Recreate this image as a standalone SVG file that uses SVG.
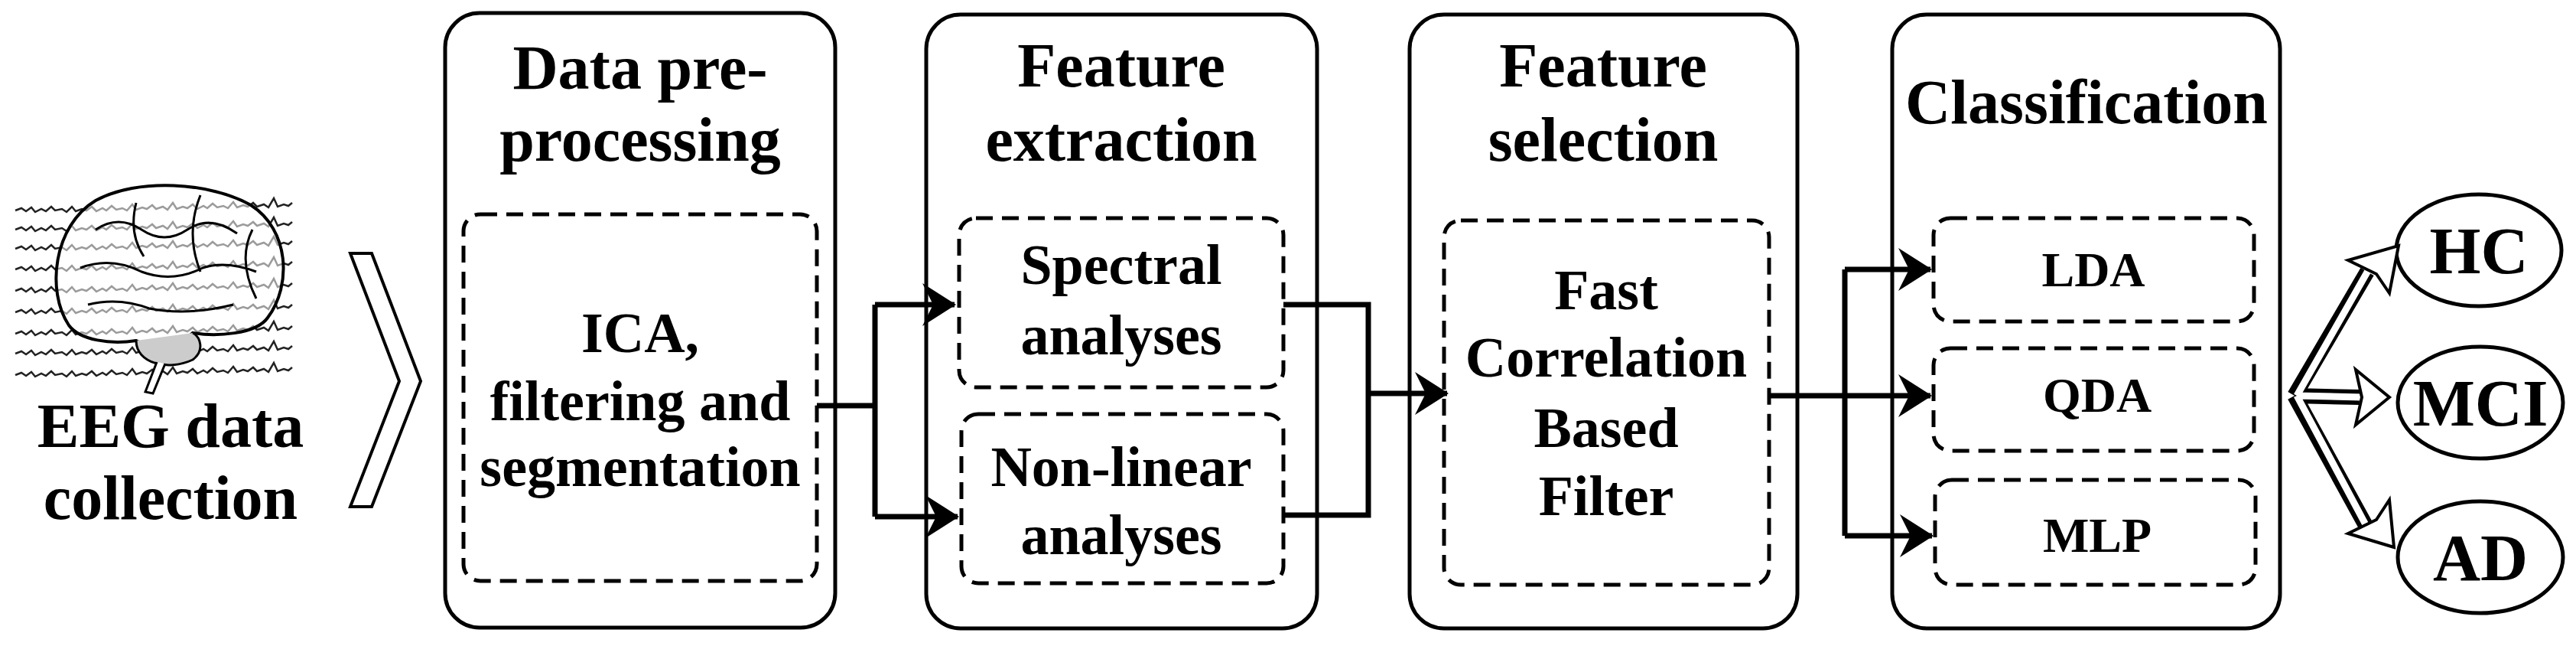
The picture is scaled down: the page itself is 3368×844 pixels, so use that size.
<svg xmlns="http://www.w3.org/2000/svg" width="3368" height="844" viewBox="0 0 3368 844" font-family="Liberation Serif, Times New Roman, DejaVu Serif, serif">
<style>
text{font-family:'Liberation Serif','Times New Roman','DejaVu Serif',serif;font-weight:700;fill:#000;text-anchor:middle}
.t{font-size:82px}.i{font-size:74px}.s{font-size:64px}.o{font-size:86px}
.box{fill:#fff;stroke:#000;stroke-width:5}
.dash{fill:none;stroke:#000;stroke-width:5;stroke-dasharray:22 12}
.ln{fill:none;stroke:#000;stroke-width:7}
.eeg{fill:none;stroke:#222;stroke-width:2.5}
</style>
<defs>
<marker id="ah" markerWidth="44" markerHeight="56" refX="42" refY="28" orient="auto" markerUnits="userSpaceOnUse" viewBox="0 0 44 56">
<path d="M0,0 L44,28 L0,56 L14,28 Z" fill="#000"/>
</marker>
<path id="wave" d="M0,0 l8,-3 6,4 7,-5 5,6 8,-4 6,3 7,-6 5,5 9,-2 6,4 7,-7 5,6 8,-3 6,2 7,-5 6,6 8,-4 5,3 7,-6 6,5 8,-2 6,3 7,-8 5,7 8,-3 6,2 7,-5 5,5 9,-3 6,4 7,-9 5,8 8,-3 6,2 7,-5 6,6 8,-4 5,3 7,-6 6,5 8,-2 6,3 7,-8 5,7 8,-3 6,2 7,-5 5,5 9,-3 6,4 7,-12 5,11 8,-3 6,2 5,-4"/>
</defs>

<g id="eeg-collection">
<g transform="translate(20,0)">
<use href="#wave" class="eeg" y="275"/><use href="#wave" class="eeg" y="300"/><use href="#wave" class="eeg" y="325"/>
<use href="#wave" class="eeg" y="352"/><use href="#wave" class="eeg" y="380"/><use href="#wave" class="eeg" y="408"/>
<use href="#wave" class="eeg" y="436"/><use href="#wave" class="eeg" y="462"/><use href="#wave" class="eeg" y="490"/>
</g>
<path d="M90,425 C60,380 70,295 125,262 C180,232 275,238 328,268 C378,300 382,372 350,415 C335,437 282,440 252,435 C232,455 200,460 178,445 C145,450 105,445 90,425 Z" fill="#fff" fill-opacity="0.55" stroke="#000" stroke-width="4"/>
<path d="M125,300 q30,-20 60,0 q30,20 60,0 q30,-20 65,5 M105,350 q40,-15 80,5 q40,15 80,-5 q30,-10 70,5 M115,398 q40,-10 80,5 q50,10 110,-5 M178,265 q-10,40 10,70 M262,255 q-20,50 0,100 M330,300 q-20,40 5,90" fill="none" stroke="#000" stroke-width="3"/>
<path d="M178,445 C178,475 220,485 252,470 C268,458 262,440 252,435" fill="#ccc" stroke="#000" stroke-width="3"/>
<path d="M205,473 L190,512 L200,514 L216,475" fill="#fff" stroke="#000" stroke-width="3"/>
<text class="t" x="223" y="584">EEG data</text>
<text class="t" x="223" y="678">collection</text>
</g>

<g id="chevron">
<polygon points="458,331 486,331 550,498 486,662 458,662 522,498" fill="#fff" stroke="#000" stroke-width="4"/>
</g>

<g id="preprocessing">
<rect class="box" x="582" y="17" width="510" height="803" rx="45"/>
<text class="t" x="837" y="116">Data pre-</text>
<text class="t" x="837" y="210">processing</text>
<rect class="dash" x="606" y="280" width="462" height="479" rx="22"/>
<text class="i" x="837" y="460">ICA,</text>
<text class="i" x="837" y="549">filtering and</text>
<text class="i" x="837" y="635">segmentation</text>
</g>

<g id="feature-extraction">
<rect class="box" x="1211" y="19" width="511" height="802" rx="45"/>
<text class="t" x="1466" y="113">Feature</text>
<text class="t" x="1466" y="210">extraction</text>
<rect class="dash" x="1254" y="285" width="424" height="221" rx="22"/>
<text class="i" x="1466" y="371">Spectral</text>
<text class="i" x="1466" y="463">analyses</text>
<rect class="dash" x="1257" y="541" width="421" height="221" rx="22"/>
<text class="i" x="1466" y="635">Non-linear</text>
<text class="i" x="1466" y="724">analyses</text>
</g>

<g id="feature-selection">
<rect class="box" x="1843" y="19" width="507" height="802" rx="45"/>
<text class="t" x="2096" y="113">Feature</text>
<text class="t" x="2096" y="210">selection</text>
<rect class="dash" x="1888" y="288" width="425" height="476" rx="22"/>
<text class="i" x="2100" y="404">Fast</text>
<text class="i" x="2100" y="492">Correlation</text>
<text class="i" x="2100" y="584">Based</text>
<text class="i" x="2100" y="673">Filter</text>
</g>

<g id="classification">
<rect class="box" x="2474" y="19" width="507" height="802" rx="45"/>
<text class="t" x="2728" y="161">Classification</text>
<rect class="dash" x="2528" y="285" width="419" height="135" rx="22"/>
<text class="s" x="2737" y="374">LDA</text>
<rect class="dash" x="2528" y="455" width="419" height="134" rx="22"/>
<text class="s" x="2742" y="538">QDA</text>
<rect class="dash" x="2530" y="627" width="419" height="137" rx="22"/>
<text class="s" x="2742" y="721">MLP</text>
</g>

<g id="hc"><ellipse cx="3241" cy="327" rx="108" ry="73" fill="#fff" stroke="#000" stroke-width="5"/><text class="o" x="3241" y="357">HC</text></g>
<g id="mci"><ellipse cx="3243" cy="526" rx="108" ry="73" fill="#fff" stroke="#000" stroke-width="5"/><text class="o" x="3243" y="556">MCI</text></g>
<g id="ad"><ellipse cx="3243" cy="728" rx="108" ry="73" fill="#fff" stroke="#000" stroke-width="5"/><text class="o" x="3243" y="758">AD</text></g>

<g id="connectors">
<path class="ln" d="M1068,530 H1144"/>
<path class="ln" d="M1144,398 V675"/>
<path class="ln" d="M1144,398 H1248" marker-end="url(#ah)"/>
<path class="ln" d="M1144,675 H1252" marker-end="url(#ah)"/>
<path class="ln" d="M1678,398 H1789 V673 H1678"/>
<path class="ln" d="M1789,514 H1892" marker-end="url(#ah)"/>
<path class="ln" d="M2313,517 H2524" marker-end="url(#ah)"/>
<path class="ln" d="M2412,352 V700"/>
<path class="ln" d="M2412,352 H2524" marker-end="url(#ah)"/>
<path class="ln" d="M2412,700 H2526" marker-end="url(#ah)"/>
<g stroke-linejoin="miter">
<path d="M3000,517 L3095,355 M3000,517 L3085,519 M3000,517 L3095,690" fill="none" stroke="#000" stroke-width="20"/>
<path d="M3003,517 L3097,352 M3003,517 L3088,519 M3003,517 L3097,693" fill="none" stroke="#fff" stroke-width="9"/>
<polygon points="3136,321 3124,383 3107,358 3070,340" fill="#fff" stroke="#000" stroke-width="4"/>
<polygon points="3124,519 3080,555 3088,519 3080,483" fill="#fff" stroke="#000" stroke-width="4"/>
<polygon points="3130,715 3070,697 3107,679 3124,653" fill="#fff" stroke="#000" stroke-width="4"/>
</g>
</g>
</svg>
